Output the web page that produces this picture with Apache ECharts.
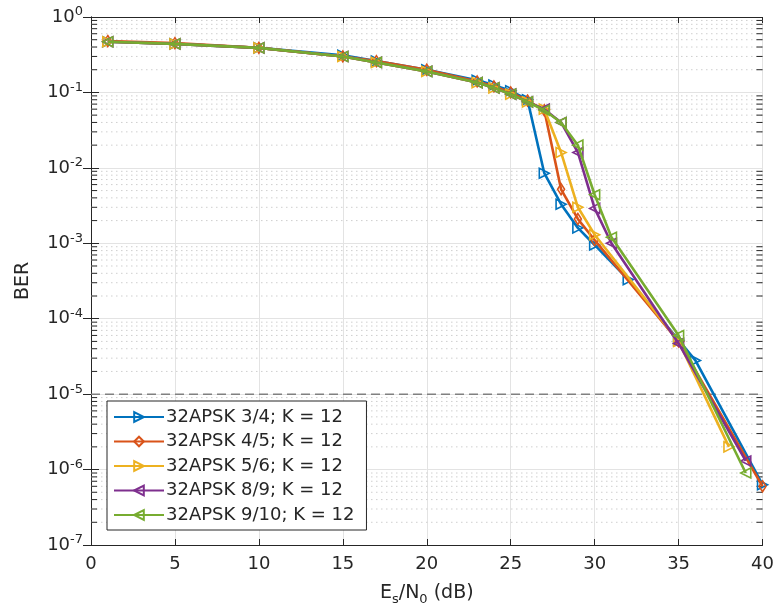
<!DOCTYPE html>
<html><head><meta charset="utf-8">
<script src="https://cdn.jsdelivr.net/npm/echarts@6/dist/echarts.min.js"></script>
<style>html,body{margin:0;padding:0;background:#fff}#c{width:777px;height:613px}</style>
</head><body><div id="c"></div>
<script>
// ---- data ----
const seriesNames = ['32APSK 3/4; K = 12','32APSK 4/5; K = 12','32APSK 5/6; K = 12','32APSK 8/9; K = 12','32APSK 9/10; K = 12'];
const xBlue   = [1,5,10,15,17,20,23,24,25,26,27,28,29,30,32,35,36,40];
const yBlue   = [0.47,0.44,0.39,0.31,0.26,0.20,0.145,0.125,0.105,0.08,0.0085,0.0033,0.0016,0.00095,0.00033,0.000052,0.000028,6.3e-7];
const xOrange = [1,5,10,15,17,20,23,24,25,26,27,28,29,30,35,40];
const yOrange = [0.48,0.45,0.39,0.30,0.26,0.20,0.14,0.12,0.10,0.078,0.058,0.0052,0.0021,0.0011,0.00005,6e-7];
const xYellow = [1,5,10,15,17,20,23,24,25,26,27,28,29,30,35,38];
const yYellow = [0.47,0.44,0.39,0.30,0.25,0.19,0.135,0.115,0.095,0.075,0.06,0.016,0.003,0.0013,0.00005,2e-6];
const xPurple = [1,5,10,15,17,20,23,24,25,26,27,28,29,30,31,35,39];
const yPurple = [0.47,0.44,0.39,0.30,0.25,0.19,0.135,0.115,0.095,0.075,0.06,0.04,0.016,0.0029,0.001,0.000047,1.3e-6];
const xGreen  = [1,5,10,15,17,20,23,24,25,26,27,28,29,30,31,35,39];
const yGreen  = [0.47,0.44,0.39,0.30,0.25,0.19,0.135,0.115,0.095,0.075,0.058,0.04,0.02,0.0044,0.0012,0.00006,9e-7];
const xTicks = [0,5,10,15,20,25,30,35,40];
const yDecades = [1,0.1,0.01,0.001,1e-4,1e-5,1e-6,1e-7];
const thresholdBER = 1e-5;

const X_MIN = 0, X_MAX = 40;
const colors = ['#0072BD','#D95319','#EDB120','#7E2F8E','#77AC30'];
const symbols = [
  {symbol:'triangle', rot:-90, size:10},
  {symbol:'diamond', rot:0, size:[7,11]},
  {symbol:'triangle', rot:-90, size:10},
  {symbol:'triangle', rot:90, size:10},
  {symbol:'triangle', rot:90, size:10}
];
const xs = [xBlue,xOrange,xYellow,xPurple,xGreen];
const ys = [yBlue,yOrange,yYellow,yPurple,yGreen];

// minor grid values 2..9 per decade
const minorVals = [];
for (let e = -7; e < 0; e++) for (let m = 2; m <= 9; m++) minorVals.push(m * Math.pow(10, e));

const txt = '#262626';
const font = 'DejaVu Sans';

// minor grid (dotted) and minor ticks as broken line series
const gridData = [], tickData = [];
const tickLen = 0.36;
minorVals.forEach(v => {
  gridData.push([X_MIN, v], [X_MAX, v], '-');
  tickData.push([X_MIN, v], [X_MIN + tickLen, v], '-', [X_MAX - tickLen, v], [X_MAX, v], '-');
});

const series = [];
series.push({
  type: 'line', data: gridData, silent: true, z: 1, symbol: 'none', connectNulls: false,
  lineStyle: {type: [1.5, 3.5], color: '#cfcfcf', width: 1}, emphasis: {disabled: true}
});
series.push({
  type: 'line', data: tickData, silent: true, z: 2, symbol: 'none', connectNulls: false,
  lineStyle: {color: txt, width: 1}, emphasis: {disabled: true}
});
series.push({
  type: 'line', data: [[X_MIN, thresholdBER], [X_MAX, thresholdBER]], silent: true, z: 3, symbol: 'none',
  lineStyle: {type: [9, 5], color: '#808080', width: 1.5}, emphasis: {disabled: true}
});
seriesNames.forEach((n, i) => series.push({
  name: n, type: 'line',
  data: xs[i].map((x, k) => [x, ys[i][k]]),
  symbol: symbols[i].symbol, symbolRotate: symbols[i].rot, symbolSize: symbols[i].size,
  showAllSymbol: true,
  lineStyle: {color: colors[i], width: 2.6},
  itemStyle: {color: 'rgba(255,255,255,0)', borderColor: colors[i], borderWidth: 1.6},
  z: 10 + i, emphasis: {disabled: true}
}));

const supRich = {
  b: {fontSize: 18, color: txt, fontFamily: font},
  s: {fontSize: 13, color: txt, fontFamily: font, padding: [0, 0, 10, 0]}
};

const chart = echarts.init(document.getElementById('c'), null, {renderer: 'canvas'});
chart.setOption({
  animation: false,
  textStyle: {fontFamily: font},
  grid: {left: 91, right: 12, top: 17, bottom: 68},
  legend: {
    left: 107, top: 401, orient: 'vertical',
    data: seriesNames,
    itemWidth: 50, itemHeight: 12, itemGap: 6.5,
    padding: [7, 12, 6, 6],
    borderColor: txt, borderWidth: 1, backgroundColor: '#fff',
    textStyle: {fontSize: 18, color: txt, fontFamily: font, padding: [0, 0, 0, -3]}
  },
  xAxis: [{
    type: 'value', min: X_MIN, max: X_MAX, interval: 5,
    name: '{a|E}{s|s}{a|/N}{s|0}{a| (dB)}', nameLocation: 'middle', nameGap: 36,
    nameTextStyle: {rich: {a: {fontSize: 19, color: txt, fontFamily: font}, s: {fontSize: 13, color: txt, fontFamily: font, padding: [12, 0, 0, 0]}}},
    axisLine: {show: true, lineStyle: {color: txt, width: 1}},
    axisTick: {inside: true, length: 6, lineStyle: {color: txt}},
    axisLabel: {fontSize: 18, color: txt, margin: 10},
    splitLine: {show: true, lineStyle: {color: '#e3e3e3', width: 1}}
  }, {
    type: 'value', min: X_MIN, max: X_MAX, interval: 5, position: 'top',
    axisLine: {show: true, lineStyle: {color: txt, width: 1}},
    axisTick: {inside: true, length: 6, lineStyle: {color: txt}},
    axisLabel: {show: false}, splitLine: {show: false}
  }],
  yAxis: [{
    type: 'log', logBase: 10, min: 1e-7, max: 1,
    name: 'BER', nameLocation: 'middle', nameGap: 58,
    nameTextStyle: {fontSize: 19, color: txt},
    axisLine: {show: true, lineStyle: {color: txt, width: 1}},
    axisTick: {inside: true, length: 8, lineStyle: {color: txt}},
    axisLabel: {
      margin: 8, rich: supRich,
      formatter: v => '{b|10}{s|' + Math.round(Math.log10(v)) + '}'
    },
    splitLine: {show: true, lineStyle: {color: '#e3e3e3', width: 1}}
  }, {
    type: 'log', logBase: 10, min: 1e-7, max: 1, position: 'right',
    axisLine: {show: true, lineStyle: {color: txt, width: 1}},
    axisTick: {inside: true, length: 8, lineStyle: {color: txt}},
    axisLabel: {show: false}, splitLine: {show: false}
  }],
  series: series
});
</script></body></html>
